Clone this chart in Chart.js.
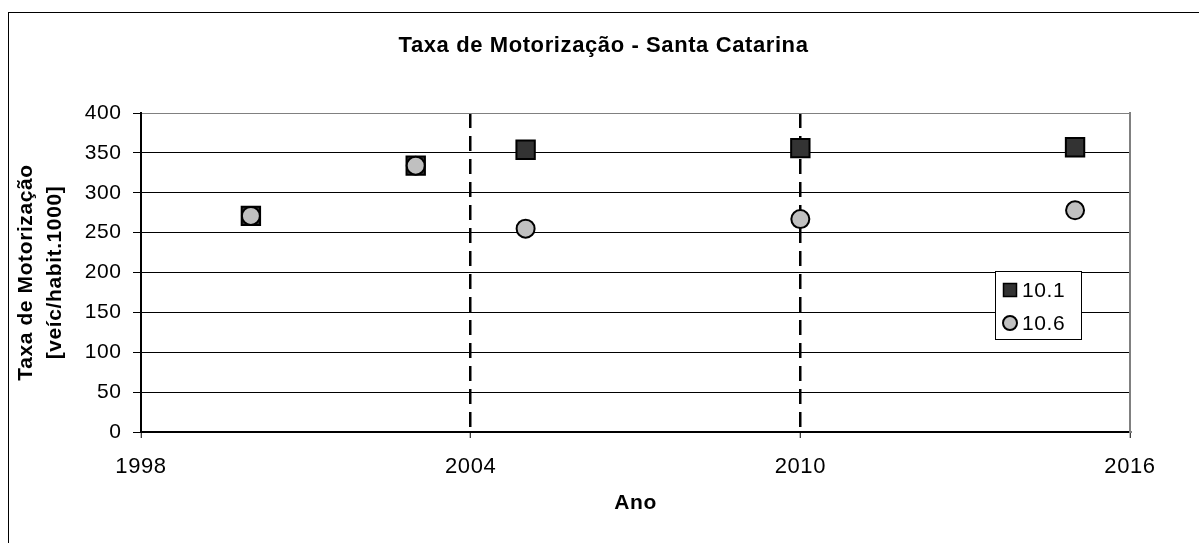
<!DOCTYPE html>
<html>
<head>
<meta charset="utf-8">
<script src="https://cdn.jsdelivr.net/npm/chart.js@4/dist/chart.umd.min.js"></script>
<style>
  html, body { margin: 0; padding: 0; background: #fff; }
  #wrap { width: 1199px; height: 543px; }
</style>
</head>
<body>
<div id="wrap"><canvas id="grafico" width="1199" height="543"></canvas></div>
<script>
// dados
const anos101 = [2000, 2003, 2005, 2010, 2015]
const taxa101 = [271, 334, 354, 356, 357]
const anos106 = [2000, 2003, 2005, 2010, 2015]
const taxa106 = [271, 334, 255, 267, 278]
const anosDivisao = [2004, 2010]
const serieNomes = ['10.1', '10.6']
const titulo = 'Taxa de Motorização - Santa Catarina'
const tituloY = ['Taxa de Motorização', '[veíc/habit.1000]']
const tituloX = 'Ano'

const fonte = "'Liberation Sans', Arial, sans-serif"
const espaco = '0.6px'

function pontos(xs, ys) {
    return xs.map((x, i) => ({ x: x, y: ys[i] }))
}

// espacamento entre letras + fundo e moldura
const espacoLetras = {
    id: 'espacoLetras',
    beforeUpdate(chart) { chart.ctx.letterSpacing = espaco },
    beforeLayout(chart) { chart.ctx.letterSpacing = espaco },
    beforeDraw(chart) {
        const ctx = chart.ctx
        ctx.letterSpacing = espaco
        ctx.save()
        ctx.fillStyle = '#fff'
        ctx.fillRect(0, 0, chart.width, chart.height)
        ctx.strokeStyle = '#000'
        ctx.lineWidth = 1
        ctx.strokeRect(8.5, 12.5, chart.width + 50, chart.height + 50)
        ctx.restore()
    }
}

// legenda dentro do grafico
const legendaCaixa = {
    id: 'legendaCaixa',
    afterDraw(chart) {
        const a = chart.chartArea
        const ctx = chart.ctx
        const bx = a.right - 135, by = a.top + 158, bw = 86, bh = 68
        ctx.save()
        ctx.fillStyle = '#fff'
        ctx.fillRect(bx, by, bw, bh)
        ctx.strokeStyle = '#000'
        ctx.lineWidth = 1
        ctx.strokeRect(bx + 0.5, by + 0.5, bw, bh)
        ctx.font = '21px ' + fonte
        ctx.textBaseline = 'middle'
        ctx.textAlign = 'left'
        chart.data.datasets.forEach((ds, i) => {
            const cy = by + 19 + i * 33
            const cx = bx + 15
            ctx.fillStyle = ds.backgroundColor
            ctx.strokeStyle = ds.borderColor
            ctx.lineWidth = ds.pointStyle == 'rect' ? 1.5 : 2
            ctx.beginPath()
            if (ds.pointStyle == 'rect') {
                ctx.rect(cx - 6.5, cy - 6.5, 13, 13)
            } else {
                ctx.arc(cx, cy, 7, 0, Math.PI * 2)
            }
            ctx.fill()
            ctx.stroke()
            ctx.fillStyle = '#000'
            ctx.fillText(ds.label, bx + 27, cy + 1)
        })
        ctx.restore()
    }
}

const ctx = document.getElementById('grafico').getContext('2d')

new Chart(ctx, {
    type: 'scatter',
    data: {
        datasets: [
            {
                label: serieNomes[0],
                data: pontos(anos101, taxa101),
                pointStyle: 'rect',
                pointRadius: 13,
                pointHoverRadius: 13,
                backgroundColor: '#333333',
                borderColor: '#000000',
                borderWidth: 2,
                order: 2
            },
            {
                label: serieNomes[1],
                data: pontos(anos106, taxa106),
                pointStyle: 'circle',
                pointRadius: 9,
                pointHoverRadius: 9,
                backgroundColor: '#c0c0c0',
                borderColor: '#000000',
                borderWidth: 2,
                order: 1
            }
        ]
    },
    options: {
        responsive: false,
        animation: false,
        events: [],
        layout: { padding: { left: 8, right: 0, top: 0, bottom: 0 } },
        plugins: {
            legend: { display: false },
            tooltip: { enabled: false },
            title: {
                display: true,
                text: titulo,
                color: '#000',
                font: { family: fonte, size: 22, weight: 'bold', lineHeight: 1.2 },
                padding: { top: 32.8, bottom: 53.8 }
            }
        },
        scales: {
            x: {
                type: 'linear',
                min: 1998,
                max: 2016,
                afterFit: s => { s.height = 111 },
                ticks: {
                    stepSize: 6,
                    color: '#000',
                    padding: 15.8,
                    maxRotation: 0,
                    font: { family: fonte, size: 22 },
                    callback: v => String(v)
                },
                grid: {
                    color: c => (c.tick && anosDivisao.includes(c.tick.value)) ? '#000' : 'rgba(0,0,0,0)',
                    lineWidth: 2.5,
                    tickColor: '#000',
                    tickLength: 6,
                    tickWidth: 1,
                    drawOnChartArea: true
                },
                border: { color: '#000', width: 2, dash: [15, 8] },
                title: {
                    display: true,
                    text: tituloX,
                    color: '#000',
                    font: { family: fonte, size: 21, weight: 'bold', lineHeight: 1.2 },
                    padding: { top: 0, bottom: 27.4 }
                }
            },
            y: {
                min: 0,
                max: 400,
                afterFit: s => { s.width = 133 },
                ticks: {
                    stepSize: 50,
                    color: '#000',
                    padding: 11.5,
                    font: { family: fonte, size: 21 }
                },
                grid: {
                    color: c => (c.tick && c.tick.value == 400) ? '#808080' : '#000',
                    lineWidth: 1,
                    tickColor: '#000',
                    tickLength: 8
                },
                border: { color: '#000', width: 2 },
                title: {
                    display: true,
                    text: tituloY,
                    color: '#000',
                    font: { family: fonte, size: 21, weight: 'bold', lineHeight: 1.38 },
                    padding: { top: 4.2, bottom: 0 }
                }
            },
            // eixo vazio a direita: so a borda cinza da area de plotagem
            direita: {
                type: 'linear',
                position: 'right',
                min: 0,
                max: 400,
                afterFit: s => { s.width = 69 },
                ticks: { display: false },
                grid: { display: false },
                border: { color: '#808080', width: 2 }
            }
        }
    },
    plugins: [espacoLetras, legendaCaixa]
})
</script>
</body>
</html>
